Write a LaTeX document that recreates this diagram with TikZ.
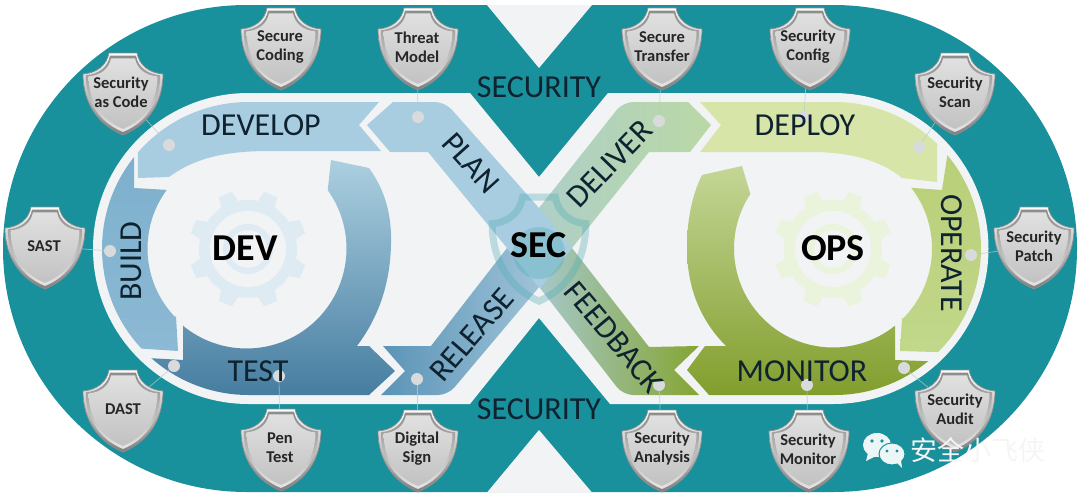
\documentclass[tikz,border=0pt]{standalone}
\usepackage{fontspec}
\setmainfont{Carlito}
\newfontfamily\cjkwm{Noto Sans CJK SC}
\usetikzlibrary{calc,backgrounds}
\pgfdeclarelayer{back}
\pgfdeclarelayer{conn}
\pgfsetlayers{back,conn,main}
\definecolor{tealb}{HTML}{18919C}
\definecolor{paper}{HTML}{F2F3F4}
\definecolor{ink}{HTML}{0E2230}
\definecolor{dotgrey}{HTML}{D8DADC}
\definecolor{connc}{HTML}{B4CDD3}
\definecolor{geardev}{HTML}{DFEBF2}
\definecolor{gearops}{HTML}{EAF3DC}
\def\arcat#1#2#3#4{-- ($(#1)+(#3:#2)$) arc[start angle=#3,end angle=#4,radius=#2]}
\def\arcbeg#1#2#3#4{($(#1)+(#3:#2)$) arc[start angle=#3,end angle=#4,radius=#2]}
\def\shieldpath{(-14,0) -- (14,0) .. controls (16,12) and (26,20) .. (40,21) .. controls (40,50) and (25,72) .. (0,82) .. controls (-25,72) and (-40,50) .. (-40,21) .. controls (-26,20) and (-16,12) .. (-14,0) -- cycle}
\tikzset{
  bandlabel/.style={font=\fontsize{32}{36}\selectfont,text=ink,inner sep=0pt},
  hublabel/.style={font=\fontsize{38}{42}\selectfont\bfseries,text=black,inner sep=0pt},
  shieldlabel/.style={font=\fontsize{16.5}{19}\selectfont\bfseries,text=black!85,align=center,inner sep=0pt},
  dotnode/.style={circle,fill=dotgrey,minimum size=12pt,inner sep=0pt},
  connline/.style={draw=connc,line width=0.7pt,opacity=.75},
  shieldshape/.pic={
    \shade[top color=white,bottom color=black!50,draw=black!45,line width=0.7pt] \shieldpath;
    \begin{scope}[shift={(0,38)},xscale=.93,yscale=.93,shift={(0,-38)}]
      \shade[top color=black!45,bottom color=white!90!black] \shieldpath;
    \end{scope}
    \begin{scope}[shift={(0,38)},xscale=.86,yscale=.86,shift={(0,-38)}]
      \shade[top color=black!12,bottom color=black!24] \shieldpath;
    \end{scope}
  }
}
\newcommand\shieldat[5]{%
  \pic at (#2,#3) {shieldshape};
  \node[shieldlabel] (#1) at (#4,#3+39) {#5};
}
\newcommand\gearat[4]{% x y toothcolor bg
  \begin{scope}[shift={(#1,#2)}]
    \foreach \a in {0,45,...,315}{
      \fill[#3,rotate=\a+22.5] (-10,44) -- (-7,59) -- (7,59) -- (10,44) -- cycle;
    }
    \fill[#3] (0,0) circle[radius=49];
    \fill[#4] (0,0) circle[radius=38];
    \draw[#3,line width=6pt] (0,0) circle[radius=22];
  \end{scope}
}
\begin{document}
\begin{tikzpicture}[x=1pt,y=-1pt]
\useasboundingbox (0,0) rectangle (1080,498);
\coordinate (L) at (248.5,248.5);
\coordinate (DI) at (246.5,248.5);
\coordinate (R) at (834.5,248.5);
\coordinate (RI) at (833,248.5);
\begin{pgfonlayer}{back}
% teal racetrack
\fill[tealb] (246.5,5) -- (833.5,5) arc[start angle=-90,end angle=90,radius=243.5] -- (246.5,492) arc[start angle=90,end angle=270,radius=243.5] -- cycle;
\fill[paper] (487,5) -- (539,68) -- (592,5) -- cycle;
\fill[paper] (487,492.5) -- (539,430) -- (592,492.5) -- cycle;
% inner lobes
\fill[paper] (248.5,93) -- (470,93) -- (539,177) -- (608,93) -- (833,93) arc[start angle=-90,end angle=90,radius=155.5] -- (610,404) -- (539,318) -- (470,404) -- (248.5,404) arc[start angle=90,end angle=270,radius=155.5] -- cycle;
\gearat{248}{249}{geardev}{paper}
\gearat{833}{249}{gearops}{paper}
% DEV side
\fill[color={rgb,255:red,169;green,205;blue,224}] (379,102) -- (359,125) -- (381,151) -- (270,151) .. controls (225,151) and (195,158) .. (169,177) -- (138,178) \arcat{L}{146.5}{221}{270} -- cycle;
\shade[top color={rgb,255:red,125;green,176;blue,205},bottom color={rgb,255:red,140;green,185;blue,212}] \arcbeg{L}{146.5}{218.6}{136.9} -- (178,351) -- (176,316) \arcat{DI}{99}{136.2}{216.3} -- (134,188) -- cycle;
\shade[top color={rgb,255:red,172;green,207;blue,224},bottom color={rgb,255:red,70;green,125;blue,160}] (331,160) -- (369,168) .. controls (385,190) and (392,215) .. (391,245) .. controls (390,285) and (378,318) .. (357,346) -- (369,346) -- (395,371) -- (369,395) \arcat{L}{146.5}{90}{131.5} -- (183,360) -- (183,325) \arcat{DI}{100}{129.5}{-35.7} -- cycle;
% OPS side
\fill[color={rgb,255:red,215;green,229;blue,168}] (700,102) -- (721,125) -- (700,152) -- (810,152) .. controls (850,152) and (880,160) .. (902,178) -- (937,182) -- (937,145) \arcat{R}{146.5}{-45}{-90} -- cycle;
\shade[top color={rgb,255:red,186;green,207;blue,120},bottom color={rgb,255:red,193;green,215;blue,138}] \arcbeg{R}{146.5}{-39.6}{45} -- (900,351) -- (902,318) \arcat{RI}{99}{45.2}{-37.8} -- (942,190) -- cycle;
\shade[top color={rgb,255:red,196;green,214;blue,150},bottom color={rgb,255:red,130;green,158;blue,45}] (709,395) \arcat{R}{146.5}{90}{50.3} -- (895,360) -- (895,326) \arcat{RI}{99}{51.3}{213.4} -- (742,166) -- (702,175) .. controls (692,195) and (687,220) .. (687,248) .. controls (687,290) and (702,322) .. (726,346) -- (705,346) -- (687,370) -- cycle;
% diagonal arms
\shade[left color={rgb,255:red,172;green,206;blue,205},right color={rgb,255:red,186;green,216;blue,165}] (572,248) -- (649,152) -- (690,152) -- (711,125) -- (688,102) [rounded corners=10pt] -- (623,102) [sharp corners] -- (539,208) -- (507,248) -- cycle;
\shade[left color={rgb,255:red,90;green,147;blue,182},right color={rgb,255:red,172;green,205;blue,222}] (540,288) -- (507,248) -- (431,346) -- (383,346) -- (405,371) -- (381,395) [rounded corners=10pt] -- (448,395) [sharp corners] -- (572,248) -- cycle;
\shade[left color={rgb,255:red,165;green,200;blue,200},right color={rgb,255:red,133;green,165;blue,50}] (572,248) -- (649,347) -- (699,346) -- (674,370) -- (699,395) [rounded corners=10pt] -- (623,395) [sharp corners] -- (540,288) -- cycle;
\fill[color={rgb,255:red,169;green,205;blue,224}] (393,102) -- (367,125) -- (390,152) -- (428,152) -- (540,288) -- (572,248) -- (539,208) [rounded corners=10pt] -- (445,102) [sharp corners] -- cycle;
% centre shield emblem
\begin{scope}[shift={(539,197)},xscale=1.17,yscale=1.27]
  \draw[tealb!75,line width=7pt,opacity=.35] \shieldpath;
\end{scope}
\fill[tealb!75,opacity=.35] (539,253) circle[radius=26];
\end{pgfonlayer}
% dots
\node[dotnode] (d1) at (169,145) {};
\node[dotnode] (d2) at (418,117) {};
\node[dotnode] (d3) at (110,251) {};
\node[dotnode] (d4) at (174,366) {};
\node[dotnode] (d5) at (279,376) {};
\node[dotnode] (d6) at (417,379) {};
\node[dotnode] (d7) at (659,121) {};
\node[dotnode] (d8) at (804,117) {};
\node[dotnode] (d9) at (919,147) {};
\node[dotnode] (d10) at (971,255) {};
\node[dotnode] (d11) at (904,368) {};
\node[dotnode] (d12) at (807,385) {};
\node[dotnode] (d13) at (659,385) {};
% shields
\shieldat{s1}{123}{53}{121}{Security\\as Code}
\shieldat{s2}{281}{8}{280}{Secure\\Coding}
\shieldat{s3}{418}{8}{417}{Threat\\Model}
\shieldat{s4}{45}{207}{44}{SAST}
\shieldat{s5}{123}{370}{123}{DAST}
\shieldat{s6}{281}{409}{280}{Pen\\Test}
\shieldat{s7}{418}{410}{417}{Digital\\Sign}
\shieldat{s8}{662}{8}{662}{Secure\\Transfer}
\shieldat{s9}{810}{8}{808}{Security\\Config}
\shieldat{s10}{955}{53}{955}{Security\\Scan}
\shieldat{s11}{1034}{207}{1034}{Security\\Patch}
\shieldat{s12}{955}{370}{955}{Security\\Audit}
\shieldat{s13}{662}{410}{662}{Security\\Analysis}
\shieldat{s14}{809}{410}{808}{Security\\Monitor}
% connectors
\begin{pgfonlayer}{conn}
\draw[connline] (d1) -- (s1);
\draw[connline] (d2) -- (s3);
\draw[connline] (d3) -- (s4);
\draw[connline] (d4) -- (s5);
\draw[connline] (d5) -- (s6);
\draw[connline] (d6) -- (s7);
\draw[connline] (d7) -- (s8);
\draw[connline] (d8) -- (s9);
\draw[connline] (d9) -- (s10);
\draw[connline] (d10) -- (s11);
\draw[connline] (d11) -- (s12);
\draw[connline] (d12) -- (s14);
\draw[connline] (d13) -- (s13);
\end{pgfonlayer}
% labels
\node[bandlabel] (tdevelop) at (261,125) {DEVELOP};
\node[bandlabel] (tdeploy) at (805,125) {DEPLOY};
\node[bandlabel] (ttest) at (258,371) {TEST};
\node[bandlabel] (tmonitor) at (802,371) {MONITOR};
\node[bandlabel,rotate=90] (tbuild) at (131,261) {BUILD};
\node[bandlabel,rotate=-90] (toperate) at (952,253) {OPERATE};
\node[bandlabel,rotate=-48] (tplan) at (471,163) {PLAN};
\node[bandlabel,rotate=46] (tdeliver) at (610,164) {DELIVER};
\node[bandlabel,rotate=49] (trelease) at (472,335) {RELEASE};
\node[bandlabel,rotate=-50] (tfeedback) at (614,337) {FEEDBACK};
\node[bandlabel] (tsecu) at (539,87) {SECURITY};
\node[bandlabel] (tsecb) at (539,409) {SECURITY};
\node[hublabel] (tdev) at (245,248) {DEV};
\node[hublabel] (tops) at (833,248) {OPS};
\node[hublabel] (tsec) at (539,245) {SEC};
% watermark
\fill[white!92!tealb] (877,445) ellipse[x radius=14,y radius=12];
\fill[white!92!tealb] (868,453) -- (866,461) -- (876,456) -- cycle;
\fill[tealb] (872,441) circle[radius=1.8] (882,441) circle[radius=1.8];
\draw[tealb,fill=white!92!tealb,line width=1pt] (892,454) ellipse[x radius=13,y radius=11];
\fill[white!92!tealb] (897,463) -- (902,468) -- (901,460) -- cycle;
\fill[tealb] (887,451) circle[radius=1.6] (897,451) circle[radius=1.6];
\node[font=\fontsize{27}{30}\selectfont\cjkwm,text=white!96!black,inner sep=0pt] (wm) at (978,450) {安全小飞侠};
\end{tikzpicture}
\end{document}
